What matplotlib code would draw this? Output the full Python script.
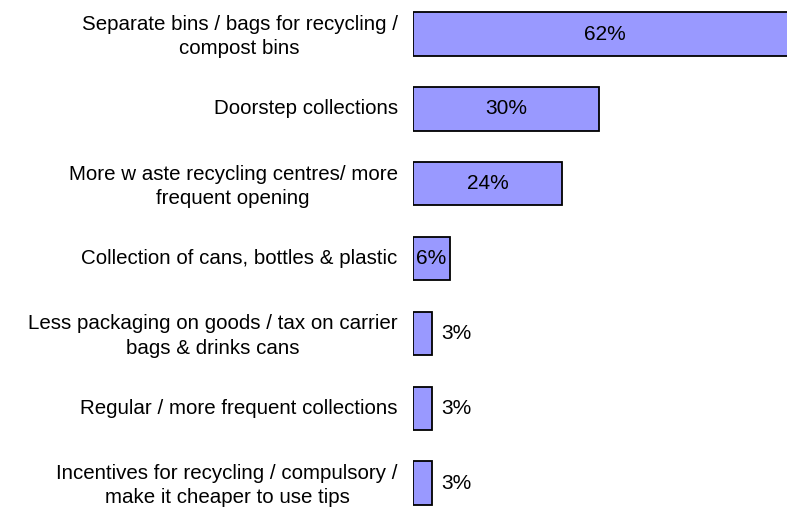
import matplotlib.pyplot as plt
import matplotlib.transforms as mtransforms

plt.rcParams['font.family'] = ['Liberation Sans', 'DejaVu Sans']

labels = ['Separate bins / bags for recycling /\ncompost bins',
          'Doorstep collections',
          'More w aste recycling centres/ more\nfrequent opening',
          'Collection of cans, bottles & plastic',
          'Less packaging on goods / tax on carrier\nbags & drinks cans',
          'Regular / more frequent collections',
          'Incentives for recycling / compulsory /\nmake it cheaper to use tips']
values = [62, 30, 24, 6, 3, 3, 3]

fig = plt.figure(figsize=(7.87, 5.07), dpi=100)
ax = fig.add_axes([413 / 787, 0, 1 - 413 / 787, 1])

ypos = list(range(len(values)))
ax.barh(ypos, values, height=0.58, color='#9999FF', edgecolor='black', linewidth=1.3)

# value labels: inside the bar when it's wide enough, otherwise just right of it
for y, v in zip(ypos, values):
    if v >= 5:
        ax.text(v / 2, y, f'{v}%', ha='center', va='center', fontsize=15)
    else:
        ax.text(v + 1.6, y, f'{v}%', ha='left', va='center', fontsize=15)

ax.set_xlim(0, 60.3)
ax.set_ylim(6.32, -0.455)
ax.set_xticks([])
ax.set_yticks(ypos)
ax.set_yticklabels(labels, fontsize=14.8, multialignment='center', linespacing=1.35)
ax.tick_params(axis='y', length=0, pad=11)
for s in ax.spines.values():
    s.set_visible(False)

# nudge the label block up a couple of pixels so descenders stay inside
shift = mtransforms.ScaledTranslation(0, 2 / 100, fig.dpi_scale_trans)
for t in ax.get_yticklabels():
    t.set_transform(t.get_transform() + shift)

fig.savefig('out.png', dpi=100)
